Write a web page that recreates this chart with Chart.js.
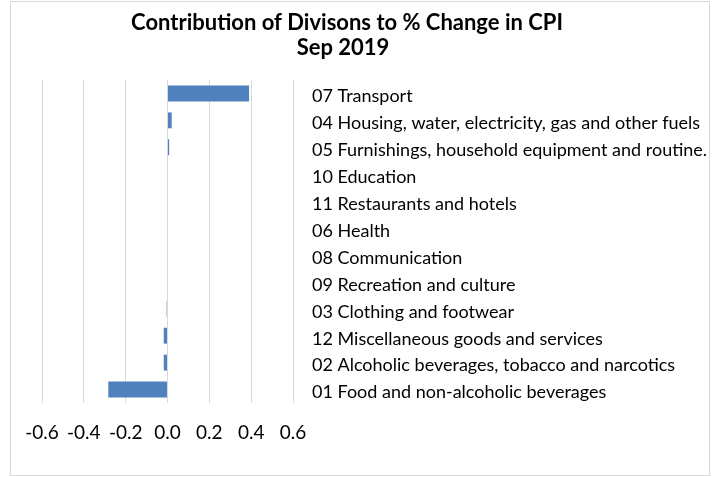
<!DOCTYPE html>
<html>
<head>
<meta charset="utf-8">
<script src="https://cdn.jsdelivr.net/npm/chart.js@4.4.0/dist/chart.umd.min.js"></script>
<style>
  html, body { margin: 0; padding: 0; background: #fff; }
</style>
</head>
<body>
<canvas id="cpiChart" width="721" height="477"></canvas>
<script>
  const divisions = [
    '07 Transport',
    '04 Housing, water, electricity, gas and other fuels',
    '05 Furnishings, household equipment and routine.',
    '10 Education',
    '11 Restaurants and hotels',
    '06 Health',
    '08 Communication',
    '09 Recreation and culture',
    '03 Clothing and footwear',
    '12 Miscellaneous goods and services',
    '02 Alcoholic beverages, tobacco and narcotics',
    '01 Food and non-alcoholic beverages',
  ];
  const contributions = [0.39, 0.02, 0.008, 0, 0, 0, 0, 0, -0.004, -0.018, -0.018, -0.283];
  const xTickValues = [-0.6, -0.4, -0.2, 0.0, 0.2, 0.4, 0.6];
  const titleLines = ['Contribution of Divisons to % Change in CPI', 'Sep 2019'];

  // title + outer frame, drawn like the excel chart box
  const frame = {
    id: 'frame',
    beforeDraw(chart) {
      const ctx = chart.ctx;
      ctx.save();
      ctx.fillStyle = '#fff';
      ctx.fillRect(0, 0, chart.width, chart.height);
      ctx.strokeStyle = '#d9d9d9';
      ctx.lineWidth = 1;
      ctx.strokeRect(10.5, 1.5, 699, 474);
      ctx.restore();
    },
    afterDraw(chart) {
      const ctx = chart.ctx;
      ctx.save();
      ctx.font = 'bold 22px Lato';
      ctx.fillStyle = '#000';
      ctx.textAlign = 'center';
      ctx.textBaseline = 'alphabetic';
      ctx.fillText(titleLines[0], 347, 30);
      ctx.fillText(titleLines[1], 343, 55);
      ctx.restore();
    }
  };

  const data = {
    labels: divisions,
    datasets: [{
      label: 'Contribution',
      data: contributions,
      backgroundColor: '#4f81bd',
      borderWidth: 0,
      categoryPercentage: 1,
      barPercentage: 0.59
    }]
  };

  const config = {
    type: 'bar',
    data,
    options: {
      indexAxis: 'y',
      responsive: false,
      animation: false,
      devicePixelRatio: 1,
      layout: {
        padding: { left: 42, right: 0, top: 80, bottom: 0 }
      },
      plugins: {
        legend: { display: false },
        title: { display: false },
        tooltip: { enabled: false }
      },
      scales: {
        x: {
          min: -0.6,
          max: 0.6,
          afterBuildTicks: s => { s.ticks = xTickValues.map(v => ({ value: v })); },
          afterFit: s => { s.height = 74; },
          grid: { color: '#d9d9d9', lineWidth: 1, drawTicks: false },
          border: { display: false },
          ticks: {
            padding: 18,
            color: '#000',
            font: { family: 'Lato', size: 19 },
            maxRotation: 0,
            callback: v => Number(v).toFixed(1)
          }
        },
        y: {
          position: 'right',
          afterFit: s => { s.width = 428; },
          grid: { display: false, drawTicks: false },
          border: { display: false },
          ticks: {
            padding: 19,
            labelOffset: 3,
            color: '#000',
            font: { family: 'Lato', size: 18 }
          }
        }
      }
    },
    plugins: [frame]
  };

  Promise.all([
    document.fonts.load('18px Lato'),
    document.fonts.load('bold 22px Lato')
  ]).catch(() => {}).then(() => {
    var cpiChart = new Chart(document.getElementById('cpiChart'), config);
  });
</script>
</body>
</html>
